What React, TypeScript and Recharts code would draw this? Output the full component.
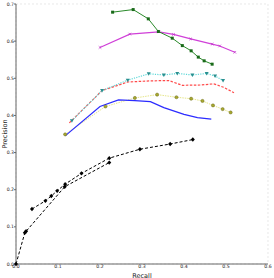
import { CartesianGrid, Line, LineChart, XAxis, YAxis } from "recharts";

type Pt = { x: number; y: number };

const xTicks = [0, 0.1, 0.2, 0.3, 0.4, 0.5, 0.6];
const yTicks = [0, 0.1, 0.2, 0.3, 0.4, 0.5, 0.6, 0.7];

const greenRecall = [0.23, 0.279, 0.315, 0.339, 0.372, 0.396, 0.417, 0.434, 0.448, 0.467];
const greenPrec = [0.678, 0.685, 0.66, 0.626, 0.608, 0.588, 0.574, 0.557, 0.547, 0.538];

const magentaRecall = [0.2, 0.271, 0.34, 0.375, 0.416, 0.467, 0.485, 0.521];
const magentaPrec = [0.583, 0.619, 0.625, 0.618, 0.606, 0.592, 0.587, 0.57];

const cyanRecall = [0.133, 0.205, 0.266, 0.316, 0.352, 0.384, 0.42, 0.454, 0.474, 0.493];
const cyanPrec = [0.386, 0.467, 0.495, 0.512, 0.509, 0.513, 0.509, 0.513, 0.506, 0.494];

const redRecall = [0.127, 0.205, 0.266, 0.32, 0.364, 0.396, 0.44, 0.471, 0.494, 0.519];
const redPrec = [0.38, 0.467, 0.49, 0.493, 0.494, 0.481, 0.482, 0.485, 0.476, 0.461];

const yellowRecall = [0.117, 0.213, 0.283, 0.336, 0.382, 0.417, 0.444, 0.469, 0.492, 0.511];
const yellowPrec = [0.349, 0.424, 0.447, 0.456, 0.449, 0.445, 0.439, 0.427, 0.417, 0.408];

const blueRecall = [0.117, 0.2, 0.244, 0.283, 0.32, 0.352, 0.4, 0.432, 0.465];
const bluePrec = [0.345, 0.424, 0.442, 0.44, 0.437, 0.421, 0.403, 0.394, 0.39];

const blackARecall = [0.038, 0.07, 0.084, 0.098, 0.117, 0.156, 0.222, 0.295, 0.367, 0.421];
const blackAPrec = [0.148, 0.17, 0.183, 0.197, 0.215, 0.244, 0.285, 0.309, 0.323, 0.335];

const blackBRecall = [0, 0.021, 0.024, 0.116, 0.222];
const blackBPrec = [0, 0.084, 0.088, 0.208, 0.273];

const zip = (xs: number[], ys: number[]): Pt[] => xs.map((x, i) => ({ x, y: ys[i] }));

const Square = (fill: string, s = 3) => (props: any) => {
  const { cx, cy, index } = props;
  if (cx == null || cy == null) return <g key={index} />;
  return <rect key={index} x={cx - s / 2} y={cy - s / 2} width={s} height={s} fill={fill} />;
};

const TriDown = (fill: string) => (props: any) => {
  const { cx, cy, index } = props;
  if (cx == null || cy == null) return <g key={index} />;
  return <polygon key={index} points={`${cx - 2},${cy - 1.5} ${cx + 2},${cy - 1.5} ${cx},${cy + 2}`} fill={fill} />;
};

const Circle = (fill: string) => (props: any) => {
  const { cx, cy, index } = props;
  if (cx == null || cy == null) return <g key={index} />;
  return <circle key={index} cx={cx} cy={cy} r={1.6} fill={fill} stroke="#5c5c10" strokeWidth={0.4} />;
};

const Diamond = (props: any) => {
  const { cx, cy, index } = props;
  if (cx == null || cy == null) return <g key={index} />;
  return <polygon key={index} points={`${cx},${cy - 2.2} ${cx + 2},${cy} ${cx},${cy + 2.2} ${cx - 2},${cy}`} fill="#000" />;
};

const Cross = (stroke: string) => (props: any) => {
  const { cx, cy, index } = props;
  if (cx == null || cy == null) return <g key={index} />;
  return (
    <path key={index} d={`M${cx - 1.3},${cy - 1.3}L${cx + 1.3},${cy + 1.3}M${cx - 1.3},${cy + 1.3}L${cx + 1.3},${cy - 1.3}`} stroke={stroke} strokeWidth={0.7} />
  );
};

const tickStyle = { fill: "#222", fontSize: 4.6, fontFamily: "DejaVu Sans" };
const labelStyle = { fontSize: 6.5, fill: "#222", fontFamily: "DejaVu Sans" };

export default function App() {
  return (
    <div style={{ position: "absolute", left: 0, top: 0, background: "#fff" }}>
      <LineChart width={274} height={278} margin={{ top: 4, right: 6, left: 0, bottom: 0 }}>
        <CartesianGrid stroke="#d8d8d8" strokeDasharray="2 2" strokeWidth={0.6} />
        <XAxis
          xAxisId="b"
          dataKey="x"
          type="number"
          domain={[0, 0.6]}
          ticks={xTicks}
          tickFormatter={(v: number) => v.toFixed(1)}
          tick={tickStyle}
          tickSize={0}
          tickMargin={1}
          height={14}
          axisLine={{ stroke: "#666", strokeWidth: 1 }}
          tickLine={false}
          interval={0}
          label={{ value: "Recall", position: "insideBottom", offset: 0.5, style: labelStyle }}
        />
        <XAxis xAxisId="t" orientation="top" type="number" domain={[0, 0.6]} ticks={xTicks} tick={false} height={0} axisLine={{ stroke: "#666" }} tickLine={false} />
        <YAxis
          yAxisId="l"
          type="number"
          domain={[0, 0.7]}
          ticks={yTicks}
          tickFormatter={(v: number) => v.toFixed(1)}
          tick={tickStyle}
          tickSize={2}
          tickMargin={0}
          width={16}
          axisLine={{ stroke: "#666", strokeWidth: 1 }}
          tickLine={{ stroke: "#666" }}
          interval={0}
          label={{ value: "Precision", angle: -90, position: "insideLeft", offset: 5, style: { ...labelStyle, textAnchor: "middle" } }}
        />
        <YAxis yAxisId="r" orientation="right" type="number" domain={[0, 0.7]} ticks={yTicks} tick={false} width={0} axisLine={{ stroke: "#666" }} tickLine={false} />

        <Line xAxisId="b" yAxisId="l" data={zip(blackBRecall, blackBPrec)} dataKey="y" stroke="#000" strokeWidth={1} strokeDasharray="3 2" dot={Diamond} isAnimationActive={false} />
        <Line xAxisId="b" yAxisId="l" data={zip(blackARecall, blackAPrec)} dataKey="y" stroke="#000" strokeWidth={1} strokeDasharray="3 2" dot={Diamond} isAnimationActive={false} />
        <Line xAxisId="b" yAxisId="l" data={zip(yellowRecall, yellowPrec)} dataKey="y" stroke="#e6e68a" strokeWidth={1} strokeDasharray="1.5 1" dot={Circle("#a8a830")} isAnimationActive={false} />
        <Line xAxisId="b" yAxisId="l" data={zip(blueRecall, bluePrec)} dataKey="y" stroke="#2b2bff" strokeWidth={1.2} dot={false} isAnimationActive={false} />
        <Line xAxisId="b" yAxisId="l" data={zip(redRecall, redPrec)} dataKey="y" stroke="#ff4a4a" strokeWidth={1.2} strokeDasharray="2.5 1.5" dot={false} isAnimationActive={false} />
        <Line xAxisId="b" yAxisId="l" data={zip(cyanRecall, cyanPrec)} dataKey="y" stroke="#5fd8d8" strokeWidth={1.2} strokeDasharray="1.2 1.2" dot={TriDown("#2a8f8f")} isAnimationActive={false} />
        <Line xAxisId="b" yAxisId="l" data={zip(magentaRecall, magentaPrec)} dataKey="y" stroke="#d040d8" strokeWidth={1.2} dot={Cross("#c030c8")} isAnimationActive={false} />
        <Line xAxisId="b" yAxisId="l" data={zip(greenRecall, greenPrec)} dataKey="y" stroke="#2a8a2a" strokeWidth={1} dot={Square("#1a6a1a")} isAnimationActive={false} />
      </LineChart>
    </div>
  );
}
